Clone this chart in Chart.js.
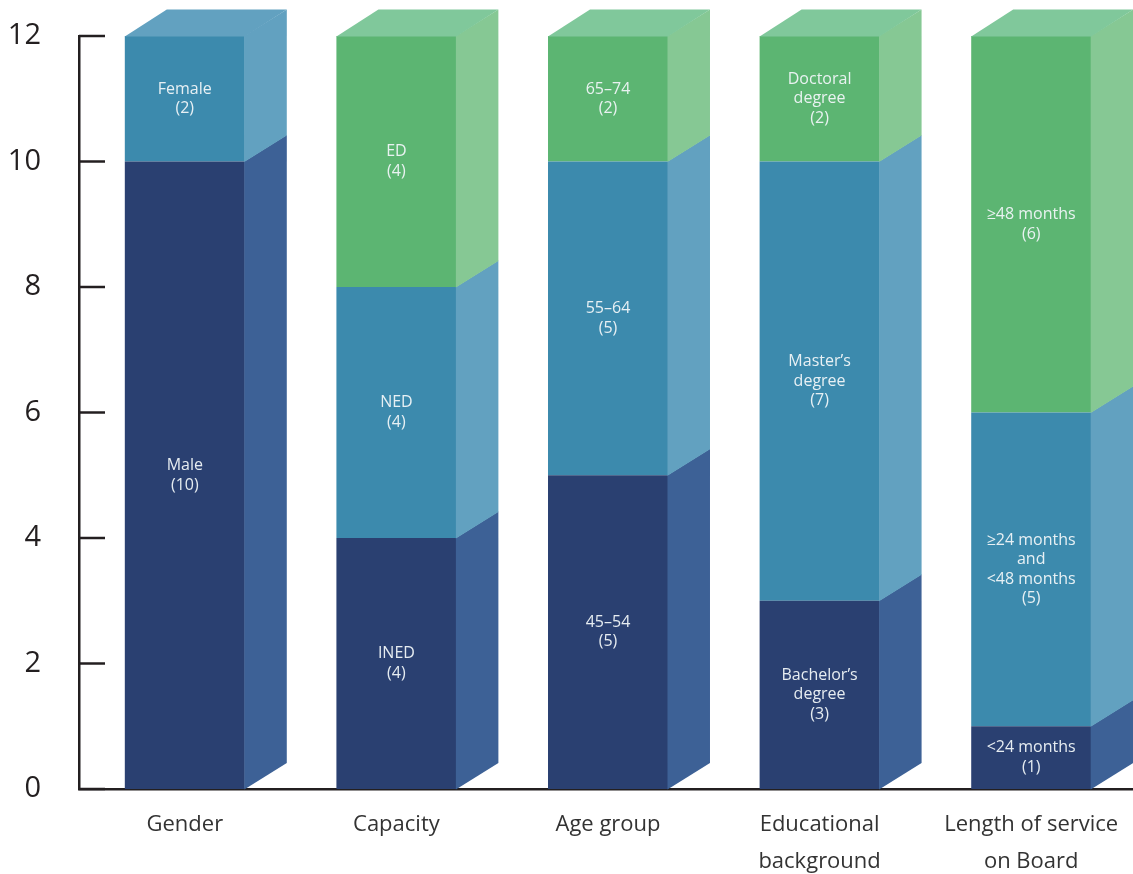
<!DOCTYPE html>
<html>
<head>
<meta charset="utf-8">
<script src="https://cdn.jsdelivr.net/npm/chart.js@4.4.1/dist/chart.umd.min.js"></script>
<style>
  html, body { margin: 0; padding: 0; background: #fff; overflow: hidden; }
  #wrap { width: 1137px; height: 874px; }
</style>
</head>
<body>
<div id="wrap"><canvas id="boardChart"></canvas></div>
<script>
// board composition, number of directors per group
const categories = [['Gender'], ['Capacity'], ['Age group'], ['Educational', 'background'], ['Length of service', 'on Board']];
const lowerValues = [10, 4, 5, 3, 1];
const middleValues = [2, 4, 5, 7, 5];
const upperValues = [0, 4, 2, 2, 6];
const lowerLabels = ['Male', 'INED', '45–54', 'Bachelor’s\ndegree', '<24 months'];
const middleLabels = ['Female', 'NED', '55–64', 'Master’s\ndegree', '≥24 months\nand\n<48 months'];
const upperLabels = ['', 'ED', '65–74', 'Doctoral\ndegree', '≥48 months'];
const yTicks = [0, 2, 4, 6, 8, 10, 12];

const INK = '#231f20';
const DEPTH_X = 42;
const DEPTH_Y = 26.5;

Chart.defaults.font.family = "'Open Sans', sans-serif";
Chart.defaults.color = INK;

// side + top faces, segment captions, tick marks
const cubePlugin = {
  id: 'cube',
  afterDatasetsDraw(chart) {
    const ctx = chart.ctx;
    const sets = chart.data.datasets;
    ctx.save();
    categories.forEach((cat, i) => {
      let topIdx = -1;
      sets.forEach((ds, d) => { if (ds.data[i] > 0) topIdx = d; });
      sets.forEach((ds, d) => {
        if (!(ds.data[i] > 0)) return;
        const bar = chart.getDatasetMeta(d).data[i];
        const {x, y, base, width} = bar.getProps(['x', 'y', 'base', 'width'], true);
        const left = x - width / 2;
        const right = x + width / 2;

        ctx.fillStyle = ds.sideColor;
        ctx.beginPath();
        ctx.moveTo(right - 0.5, y);
        ctx.lineTo(right + DEPTH_X, y - DEPTH_Y);
        ctx.lineTo(right + DEPTH_X, base - DEPTH_Y + 0.5);
        ctx.lineTo(right - 0.5, base + 0.5);
        ctx.closePath();
        ctx.fill();

        if (d === topIdx) {
          ctx.fillStyle = ds.topColor;
          ctx.beginPath();
          ctx.moveTo(left, y + 0.5);
          ctx.lineTo(left + DEPTH_X, y - DEPTH_Y);
          ctx.lineTo(right + DEPTH_X, y - DEPTH_Y);
          ctx.lineTo(right, y + 0.5);
          ctx.closePath();
          ctx.fill();
        }

        const lines = ds.captions[i].split('\n');
        const lh = 19.5;
        ctx.fillStyle = 'rgba(240,245,248,0.95)';
        ctx.font = "16px 'Open Sans', sans-serif";
        ctx.textAlign = 'center';
        ctx.textBaseline = 'middle';
        lines.push('(' + ds.data[i] + ')');
        const mid = (y + base) / 2;
        lines.forEach((t, k) => {
          ctx.fillText(t, x, mid + (k - (lines.length - 1) / 2) * lh);
        });
      });
    });
    ctx.restore();
  },
  afterDraw(chart) {
    const ctx = chart.ctx;
    const yScale = chart.scales.y;
    const left = chart.chartArea.left;
    ctx.save();
    ctx.strokeStyle = INK;
    ctx.lineWidth = 2.5;
    yTicks.forEach(v => {
      const py = yScale.getPixelForValue(v);
      ctx.beginPath();
      ctx.moveTo(left, py);
      ctx.lineTo(left + 26, py);
      ctx.stroke();
    });
    ctx.restore();
  }
};

new Chart(document.getElementById('boardChart'), {
  type: 'bar',
  data: {
    labels: categories,
    datasets: [
      {data: lowerValues, captions: lowerLabels, backgroundColor: '#2a4071', sideColor: '#3d6196', topColor: '#3d6196'},
      {data: middleValues, captions: middleLabels, backgroundColor: '#3c8aad', sideColor: '#62a1c0', topColor: '#62a1c0'},
      {data: upperValues, captions: upperLabels, backgroundColor: '#5cb572', sideColor: '#86c894', topColor: '#80c89b'}
    ]
  },
  options: {
    responsive: true,
    maintainAspectRatio: false,
    animation: false,
    events: [],
    layout: {padding: {top: 36, left: 0, right: 0, bottom: 0}},
    datasets: {
      bar: {categoryPercentage: 1, barPercentage: 0.567, borderWidth: 0, clip: false}
    },
    plugins: {
      legend: {display: false},
      tooltip: {enabled: false}
    },
    scales: {
      x: {
        stacked: true,
        z: 1,
        grid: {display: false, drawTicks: false},
        border: {display: true, color: INK, width: 2.5},
        ticks: {padding: 17, font: {size: 22, lineHeight: '37px'}, color: '#333'},
        afterFit(scale) { scale.height = 85; }
      },
      y: {
        stacked: true,
        min: 0,
        max: 12,
        z: 1,
        afterBuildTicks(scale) { scale.ticks = yTicks.map(v => ({value: v})); },
        grid: {display: false, drawTicks: false},
        border: {display: true, color: INK, width: 2.5},
        ticks: {padding: 38, font: {size: 29}, color: INK},
        afterFit(scale) {
          scale.width = 79;
          scale.paddingTop = 0;
          scale.paddingBottom = 0;
        }
      }
    }
  },
  plugins: [cubePlugin]
});
</script>
</body>
</html>
